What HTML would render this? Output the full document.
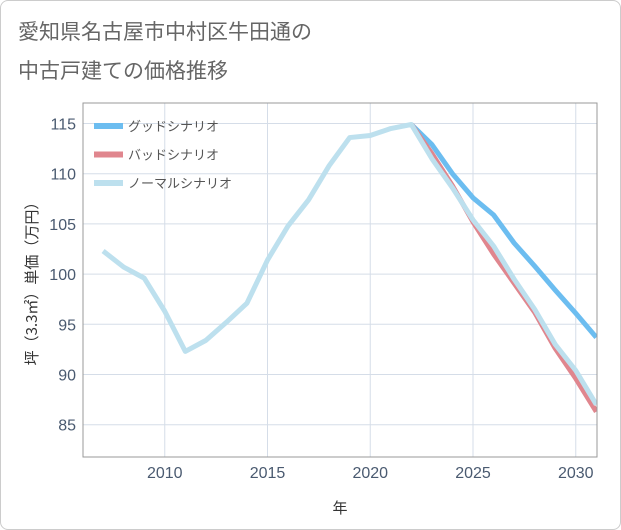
<!DOCTYPE html>
<html><head><meta charset="utf-8"><style>
body{margin:0;background:#fff;font-family:"Liberation Sans","Noto Sans CJK JP",sans-serif;}
#wrap{position:relative;width:619px;height:528px;border:1px solid #ccc;border-radius:8px;}
</style></head><body>
<div id="wrap">
<svg id="c" width="621" height="530" style="position:absolute;left:-1px;top:-1px">
<text x="18" y="39" font-size="21" fill="#666" font-family="Noto Sans CJK JP, sans-serif">愛知県名古屋市中村区牛田通の</text>
<text x="18" y="78" font-size="21" fill="#666" font-family="Noto Sans CJK JP, sans-serif">中古戸建ての価格推移</text>
<g id="grid"></g><g id="lines"></g>
<rect x="83" y="103" width="514" height="354" fill="none" stroke="#999"/>
<text x="340" y="513" font-size="15" fill="#333" text-anchor="middle" font-family="Noto Sans CJK JP, sans-serif">年</text>
<text transform="translate(37,280) rotate(-90)" font-size="15" fill="#333" text-anchor="middle" font-family="Noto Sans CJK JP, sans-serif">坪（3.3㎡）単価（万円）</text>
<g id="legend"></g>
</svg></div>
<script>
const years=[2007,2008,2009,2010,2011,2012,2013,2014,2015,2016,2017,2018,2019,2020,2021,2022,2023,2024,2025,2026,2027,2028,2029,2030,2031];
const normal=[102.3,100.7,99.6,96.3,92.3,93.4,95.2,97.1,101.4,104.8,107.4,110.8,113.6,113.8,114.5,114.9,111.5,108.6,105.4,102.8,99.5,96.5,93.0,90.4,87.0];
const goodYears=[2022,2023,2024,2025,2026,2027,2028,2029,2030,2031];
const good=[114.9,112.9,110.0,107.6,105.9,103.1,100.8,98.4,96.1,93.7];
const bad=[114.9,112.0,108.8,105.2,102.0,99.1,96.2,92.6,89.6,86.3];
const xTicks=[2010,2015,2020,2025,2030];
const yTicks=[85,90,95,100,105,110,115];
const X=v=>473+(v-2025)*20.55, Y=v=>123.5+(115-v)*10.04;
const ns="http://www.w3.org/2000/svg";
function mk(t,a,p){const e=document.createElementNS(ns,t);for(const k in a)e.setAttribute(k,a[k]);p.appendChild(e);return e;}
const g=document.getElementById('grid');
xTicks.forEach(v=>{const l=mk('line',{x1:X(v),x2:X(v),y1:103,y2:457,stroke:'#d5dde8'},g);


const t=mk('text',{x:X(v),y:478,'font-size':16,fill:'#4a5a70','text-anchor':'middle'},g);t.textContent=v;

});
yTicks.forEach(v=>{const l=mk('line',{x1:83,x2:597,y1:Y(v),y2:Y(v),stroke:'#d5dde8'},g);


const t=mk('text',{x:76,y:Y(v)+6,'font-size':16,fill:'#4a5a70','text-anchor':'end'},g);t.textContent=v;

});
const L=document.getElementById('lines');
const defs=mk('clipPath',{id:'cp'},L);mk('rect',{x:83,y:103,width:514,height:354},defs);
function line(xs,ys,col,name){const p=mk('polyline',{points:xs.map((x,i)=>X(x)+','+Y(ys[i])).join(' '),fill:'none',stroke:col,'stroke-width':5,'stroke-linejoin':'round','clip-path':'url(#cp)'},L);

}
line(goodYears,good,'#6cbdf0','good-scenario-line');
line(goodYears,bad,'#e0868e','bad-scenario-line');
line(years,normal,'#bde0ee','normal-scenario-line');
const lg=document.getElementById('legend');
[['グッドシナリオ','#6cbdf0'],['バッドシナリオ','#e0868e'],['ノーマルシナリオ','#bde0ee']].forEach((d,i)=>{
const y=126+i*28.5;
const r=mk('line',{x1:94,x2:123,y1:y,y2:y,stroke:d[1],'stroke-width':6},lg);


const t=mk('text',{x:128,y:y+5,'font-size':13,fill:'#555'},lg);t.textContent=d[0];

});
</script>
</body></html>
